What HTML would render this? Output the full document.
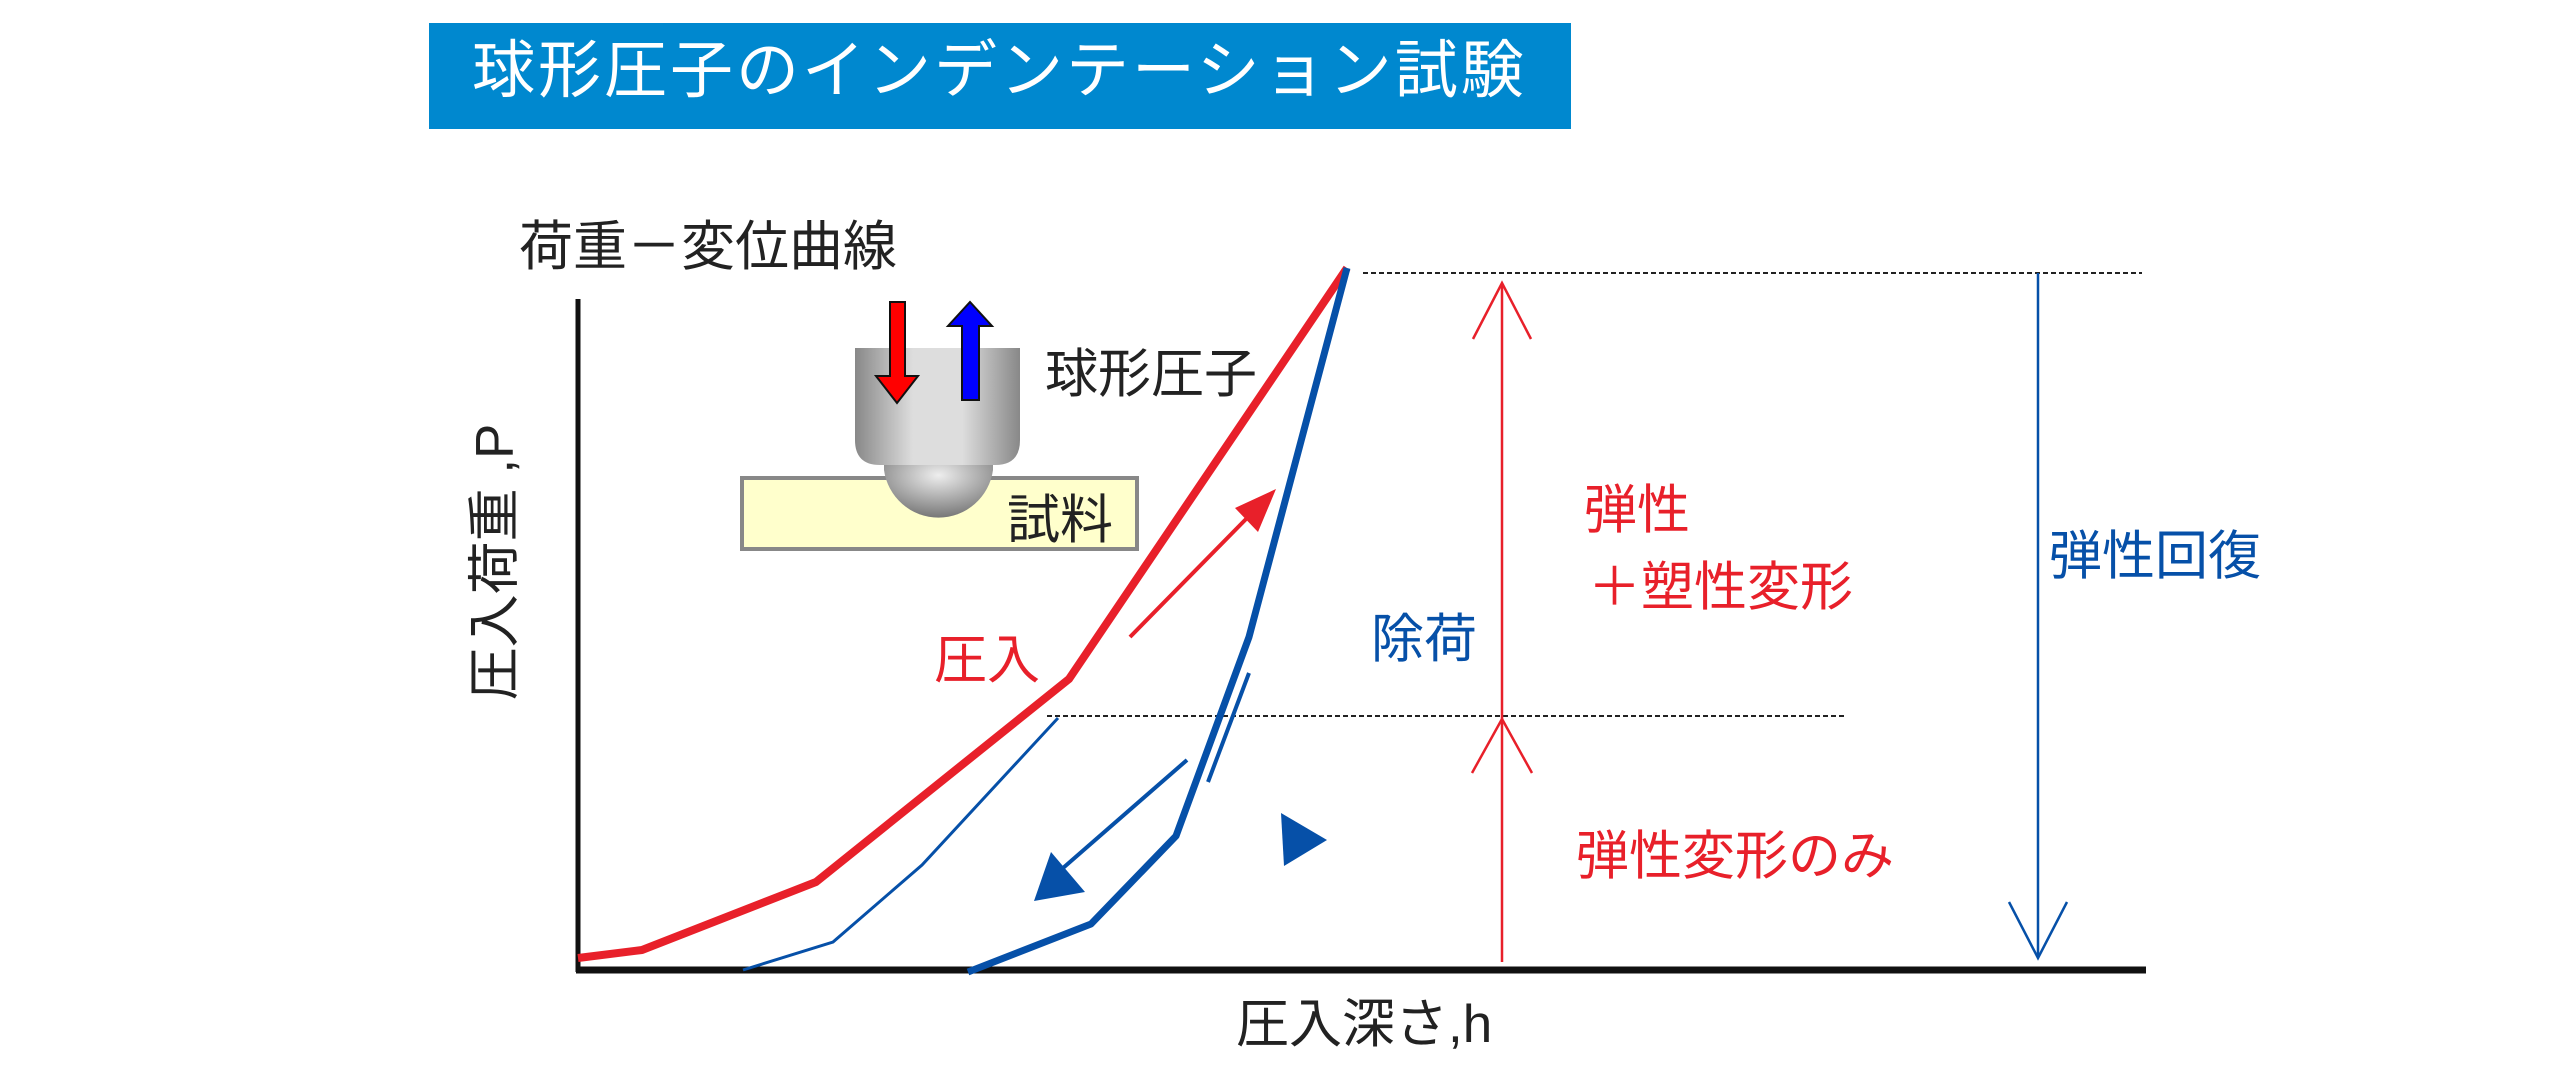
<!DOCTYPE html>
<html><head><meta charset="utf-8"><style>
html,body{margin:0;padding:0;background:#fff;}
body{width:2560px;height:1076px;position:relative;overflow:hidden;font-family:"Liberation Sans","Noto Sans CJK JP",sans-serif;}
.t{position:absolute;white-space:nowrap;line-height:1;}
</style></head><body>
<div style="position:absolute;left:429px;top:23px;width:1142px;height:106px;background:#0088cf;"></div>
<div class="t" style="left:472px;top:40px;font-size:63px;color:#fff;letter-spacing:3px;">球形圧子のインデンテーション試験</div>
<svg width="2560" height="1076" style="position:absolute;left:0;top:0">
<defs>
<linearGradient id="cyl" x1="0" x2="1" y1="0" y2="0">
<stop offset="0" stop-color="#888"/><stop offset="0.35" stop-color="#ddd"/><stop offset="0.65" stop-color="#ddd"/><stop offset="1" stop-color="#888"/></linearGradient>
<radialGradient id="ball" cx="0.5" cy="0.3" r="0.7"><stop offset="0" stop-color="#eee"/><stop offset="1" stop-color="#777"/></radialGradient>
</defs>
<line x1="578" y1="299" x2="578" y2="972" stroke="#111" stroke-width="5"/>
<line x1="576" y1="970" x2="2146" y2="970" stroke="#111" stroke-width="7"/>
<rect x="742" y="478" width="395" height="71" fill="#ffffcc" stroke="#888" stroke-width="4"/>
<path d="M884 457 L884 470 A55 55 0 0 0 993 470 L993 457 Z" fill="url(#ball)"/>
<path d="M855 348 L1020 348 L1020 440 Q1020 465 995 465 L880 465 Q855 465 855 440 Z" fill="url(#cyl)"/>
<path d="M890 302 L905 302 L905 376 L918 376 L897 403 L876 376 L890 376 Z" fill="#f00" stroke="#111" stroke-width="2"/>
<path d="M962 400 L979 400 L979 326 L992 326 L970 302 L948 326 L962 326 Z" fill="#00f" stroke="#111" stroke-width="2"/>
<line x1="1363" y1="273" x2="2142" y2="273" stroke="#222" stroke-width="2" stroke-dasharray="5,3"/>
<line x1="1047" y1="716" x2="1844" y2="716" stroke="#222" stroke-width="2" stroke-dasharray="5,3"/>
<polyline points="578,958 642,950 816,882 1069,679 1347,268" fill="none" stroke="#e8202a" stroke-width="8" stroke-linejoin="round"/>
<polyline points="968,972 1091,924 1176,836 1249,637 1347,268" fill="none" stroke="#0650a8" stroke-width="7" stroke-linejoin="round"/>
<polyline points="743,970 833,942 922,865 1058,718" fill="none" stroke="#0650a8" stroke-width="3"/>
<line x1="1249" y1="673" x2="1208" y2="782" stroke="#0650a8" stroke-width="4"/>
<line x1="1130" y1="637" x2="1250" y2="515" stroke="#e8202a" stroke-width="4"/>
<polygon points="1276,489 1235,508 1258,532" fill="#e8202a"/>
<line x1="1187" y1="760" x2="1055" y2="875" stroke="#0650a8" stroke-width="4"/>
<polygon points="1034,901 1051,852 1085,892" fill="#0650a8"/>
<polygon points="1281,813 1327,840 1284,866" fill="#0650a8"/>
<line x1="1502" y1="283" x2="1502" y2="962" stroke="#e8202a" stroke-width="2.5"/>
<polyline points="1473,339 1502,283 1531,339" fill="none" stroke="#e8202a" stroke-width="2.5"/>
<polyline points="1472,773 1502,719 1532,773" fill="none" stroke="#e8202a" stroke-width="2.5"/>
<line x1="2038" y1="273" x2="2038" y2="956" stroke="#0650a8" stroke-width="2.5"/>
<polyline points="2009,902 2038,958 2067,902" fill="none" stroke="#0650a8" stroke-width="2.5"/>
</svg>
<div class="t" style="left:519px;top:220px;font-size:54px;color:#222;">荷重－変位曲線</div>
<div class="t" style="left:1045px;top:348px;font-size:53px;color:#222;">球形圧子</div>
<div class="t" style="left:1007px;top:494px;font-size:53px;color:#222;">試料</div>
<div class="t" style="left:934px;top:634px;font-size:53px;color:#e8202a;">圧入</div>
<div class="t" style="left:1371px;top:613px;font-size:53px;color:#0650a8;">除荷</div>
<div class="t" style="left:1584px;top:484px;font-size:53px;color:#e8202a;">弾性</div>
<div class="t" style="left:1588px;top:561px;font-size:53px;color:#e8202a;">＋塑性変形</div>
<div class="t" style="left:1576px;top:830px;font-size:53px;color:#e8202a;">弾性変形のみ</div>
<div class="t" style="left:2049px;top:530px;font-size:53px;color:#0650a8;">弾性回復</div>
<div class="t" style="left:1236px;top:998px;font-size:53px;color:#222;">圧入深さ,h</div>
<div class="t" style="left:495px;top:562px;font-size:53px;color:#222;transform:translate(-50%,-50%) rotate(-90deg);">圧入荷重 ,P</div>
</body></html>
